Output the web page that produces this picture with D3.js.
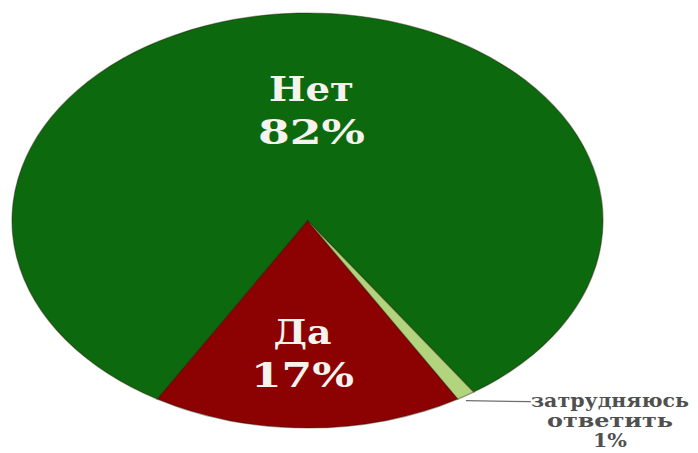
<!DOCTYPE html>
<html>
<head>
<meta charset="utf-8">
<script src="https://cdn.jsdelivr.net/npm/d3@7"></script>
<style>
  html, body { margin: 0; padding: 0; background: #fff; }
</style>
</head>
<body>
<div id="chart"></div>
<script>
// данные опроса
const categories = ["Да", "Нет", "затрудняюсь ответить"];
const values = [17, 82, 1];
const pctLabels = ["17%", "82%", "1%"];
const colors = ["#8c0202", "#0d690d", "#b2d47c"];

const width = 698;
const height = 453;

// эллипс "наклонной" диаграммы
const cx = 307.5, cy = 220.5;
const rx = 295.5, ry = 207.5;
const ky = ry / rx;

const svg = d3.select("#chart")
  .append("svg")
  .attr("width", width)
  .attr("height", height)
  .style("background", "#fff");

const deg = Math.PI / 180;
const start = (180 - values[0] * 3.6 / 2) * deg; // "Да" центрирован внизу

const pie = d3.pie()
  .sort(null)
  .value((d) => d)
  .startAngle(start)
  .endAngle(start + 2 * Math.PI);

const arcs = pie(values);

const arc = d3.arc().innerRadius(0).outerRadius(rx);

const g = svg.append("g")
  .attr("transform", `translate(${cx},${cy}) scale(1,${ky})`);

g.selectAll("path")
  .data(arcs)
  .enter()
  .append("path")
  .attr("d", arc)
  .attr("fill", (d, i) => colors[i])
  .attr("stroke", "rgba(30,20,0,0.4)")
  .attr("stroke-width", 1.2)
  .attr("vector-effect", "non-scaling-stroke");

// подписи внутри секторов
const labelRadius = [0.62, 0.55];
const labelDx = [-5, 9];
const labelWidths = [[58, 103], [85, 107]]; // ширина строк как на картинке
const font = "'DejaVu Serif', 'Liberation Serif', serif";

arcs.slice(0, 2).forEach((d, i) => {
  const la = d3.arc().innerRadius(rx * labelRadius[i]).outerRadius(rx * labelRadius[i]);
  const [x, y] = la.centroid(d);
  const lx = cx + x + labelDx[i];
  const t = svg.append("text")
    .attr("x", lx)
    .attr("y", cy + y * ky)
    .attr("text-anchor", "middle")
    .attr("fill", "#f5f3ee")
    .style("font-family", font)
    .style("font-weight", "bold")
    .style("font-size", "33px");
  t.append("tspan").attr("x", lx).attr("dy", "-0.15em")
    .attr("textLength", labelWidths[i][0]).attr("lengthAdjust", "spacingAndGlyphs")
    .text(categories[i]);
  t.append("tspan").attr("x", lx).attr("dy", "1.3em")
    .attr("textLength", labelWidths[i][1]).attr("lengthAdjust", "spacingAndGlyphs")
    .text(pctLabels[i]);
});

// выноска для маленького сектора
const small = arcs[2];
const mid = (small.startAngle + small.endAngle) / 2;
const px = cx + rx * Math.sin(mid);
const py = cy - rx * Math.cos(mid) * ky;

svg.append("line")
  .attr("x1", px).attr("y1", py + 5)
  .attr("x2", px + 65).attr("y2", py + 6)
  .attr("stroke", "#6e6e6e")
  .attr("stroke-width", 1.2);

const words = ["затрудняюсь", "ответить", pctLabels[2]];
const wordWidths = [158, 126, 34];
const smallText = svg.append("text")
  .attr("text-anchor", "middle")
  .attr("fill", "#505050")
  .style("font-family", font)
  .style("font-weight", "bold")
  .style("font-size", "18px");

words.forEach((w, i) => {
  smallText.append("tspan")
    .attr("x", 610)
    .attr("y", py + 11 + i * 20)
    .attr("textLength", wordWidths[i])
    .attr("lengthAdjust", "spacingAndGlyphs")
    .text(w);
});
</script>
</body>
</html>
